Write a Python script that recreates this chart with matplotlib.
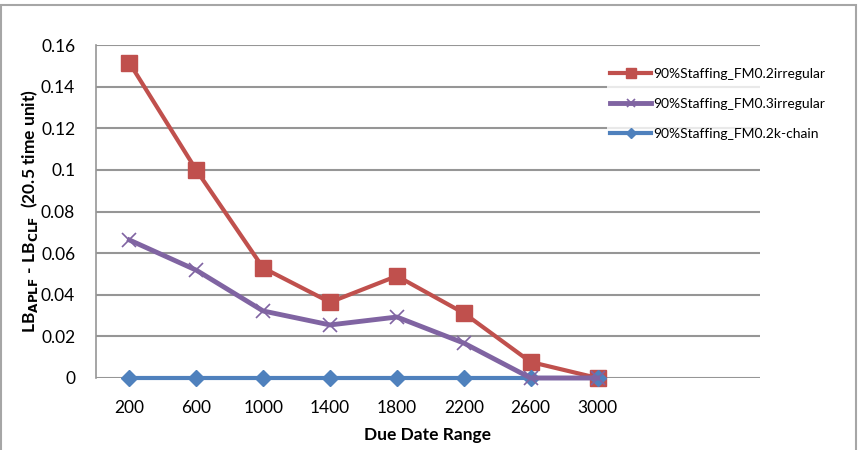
import matplotlib.pyplot as plt
from matplotlib.patches import Rectangle

plt.rcParams['font.family'] = ['Lato', 'DejaVu Sans']

categories = ['200', '600', '1000', '1400', '1800', '2200', '2600', '3000']
fm02_irregular = [0.1514, 0.0999, 0.0529, 0.0364, 0.0490, 0.0312, 0.0077, 0.0]
fm03_irregular = [0.0663, 0.0518, 0.0322, 0.0255, 0.0293, 0.0168, 0.0, 0.0]
fm02_kchain = [0.0, 0.0, 0.0, 0.0, 0.0, 0.0, 0.0, 0.0]
y_ticks = [0, 0.02, 0.04, 0.06, 0.08, 0.1, 0.12, 0.14, 0.16]
y_tick_labels = ['0', '0.02', '0.04', '0.06', '0.08', '0.1', '0.12', '0.14', '0.16']

fig = plt.figure(figsize=(8.6, 4.5), dpi=100)
ax = fig.add_axes([96 / 860, 1 - 378 / 450, (760 - 96) / 860, (378 - 45) / 450])

# chart area border
fig.patches.append(Rectangle((1 / 860, -0.1), 855 / 860, 1.1 - 5 / 450,
                             transform=fig.transFigure, fill=False,
                             edgecolor='#a6a6a6', linewidth=1.5))

xs = list(range(len(categories)))
ax.plot(xs, fm02_irregular, color='#c0504d', linewidth=3, marker='s',
        markersize=11, label='90%Staffing_FM0.2irregular', zorder=3, clip_on=False)
ax.plot(xs, fm02_kchain, color='#4f81bd', linewidth=3, marker='D',
        markersize=8, label='90%Staffing_FM0.2k-chain', zorder=4, clip_on=False)
ax.plot(xs, fm03_irregular, color='#8064a2', linewidth=3.5, marker='x',
        markersize=10, markeredgewidth=1.2, label='90%Staffing_FM0.3irregular',
        zorder=5, clip_on=False)

ax.set_xlim(-0.5, 9.43)
ax.set_ylim(0, 0.16)
ax.set_xticks(xs)
ax.set_xticklabels(categories, fontsize=12.5)
ax.set_yticks(y_ticks)
ax.set_yticklabels(y_tick_labels, fontsize=12.5)
ax.tick_params(axis='y', length=0, pad=15)
ax.tick_params(axis='x', length=0, pad=16)
ax.yaxis.grid(True, color='#969696', linewidth=1.5)
ax.set_axisbelow(True)
for side in ['top', 'right', 'bottom']:
    ax.spines[side].set_visible(False)
ax.spines['left'].set_color('#969696')
ax.spines['left'].set_linewidth(1.2)

ax.set_xlabel('Due Date Range', fontsize=12.5, fontweight='bold', labelpad=8)
ax.set_ylabel(r'LB$_{\mathbf{APLF}}$ - LB$_{\mathbf{CLF}}$  (20.5 time unit)',
              fontsize=12.5, fontweight='bold')
ax.yaxis.set_label_coords(-0.085, 0.5)

handles, labels = ax.get_legend_handles_labels()
order = [0, 2, 1]
leg = fig.legend([handles[i] for i in order], [labels[i] for i in order],
                 loc='upper left', bbox_to_anchor=(600 / 860, 1 - 58 / 450),
                 fontsize=10, frameon=True, handlelength=3, handletextpad=0.1,
                 labelspacing=1.3, borderpad=0.2, markerscale=0.6)
leg.get_frame().set_facecolor('white')
leg.get_frame().set_edgecolor('none')

fig.savefig('out.png', dpi=100)
